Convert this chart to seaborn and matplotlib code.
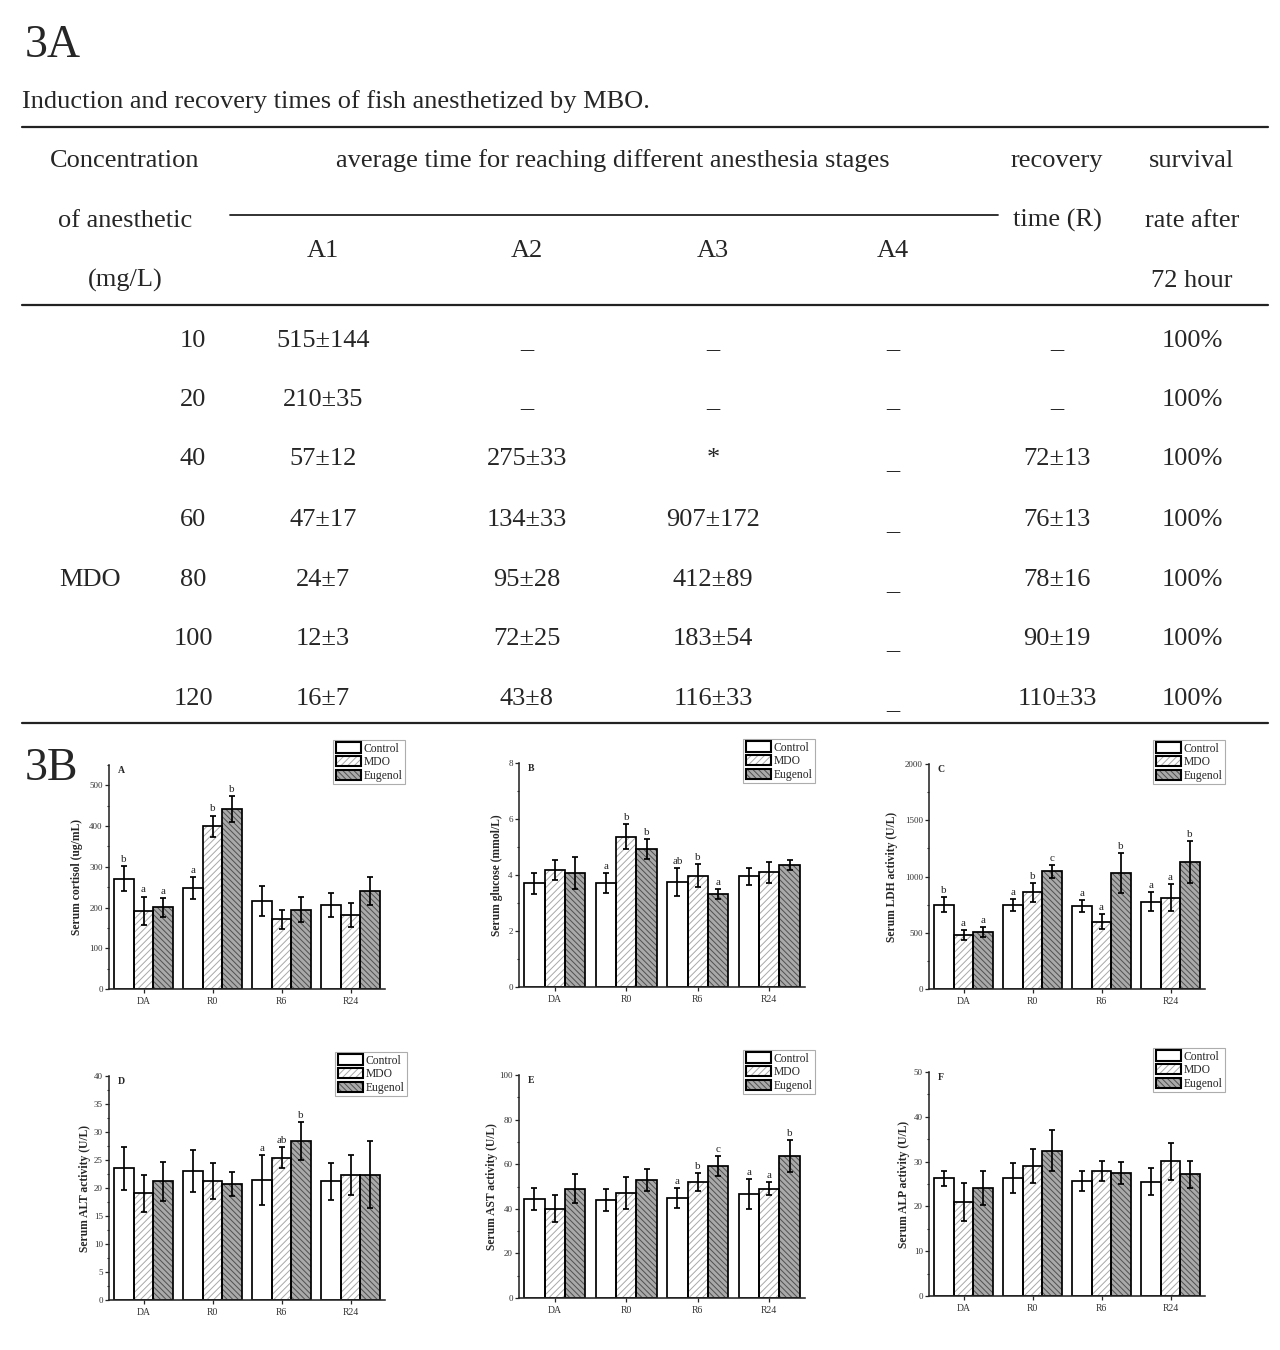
import numpy as np
import pandas as pd
import matplotlib
matplotlib.use("Agg")
import matplotlib.pyplot as plt
import matplotlib.patches as mpatches
from matplotlib.lines import Line2D
from matplotlib.ticker import MultipleLocator
import seaborn as sns

# ---- table 3A ----
conc = ["10", "20", "40", "60", "80", "100", "120"]
a1 = ["515±144", "210±35", "57±12", "47±17", "24±7", "12±3", "16±7"]
a2 = ["_", "_", "275±33", "134±33", "95±28", "72±25", "43±8"]
a3 = ["_", "_", "*", "907±172", "412±89", "183±54", "116±33"]
a4 = ["_", "_", "_", "_", "_", "_", "_"]
recovery = ["_", "_", "72±13", "76±13", "78±16", "90±19", "110±33"]
survival = ["100%", "100%", "100%", "100%", "100%", "100%", "100%"]

# ---- panels 3B ----
times = ["DA", "R0", "R6", "R24"]
groups = ["Control", "MDO", "Eugenol"]

cortisol_mean = [[271, 247, 216, 206], [192, 400, 171, 181], [201, 441, 195, 240]]
cortisol_sd = [[31, 27, 37, 29], [35, 26, 24, 29], [23, 32, 31, 34]]
cortisol_sig = [["b", "a", "", ""], ["a", "b", "", ""], ["a", "b", "", ""]]

glucose_mean = [[3.70, 3.70, 3.74, 3.95], [4.18, 5.37, 3.98, 4.10], [4.07, 4.93, 3.33, 4.36]]
glucose_sd = [[0.37, 0.36, 0.50, 0.29], [0.37, 0.45, 0.40, 0.37], [0.57, 0.36, 0.18, 0.18]]
glucose_sig = [["", "a", "ab", ""], ["", "b", "b", ""], ["", "b", "a", ""]]

ldh_mean = [[748, 748, 736, 777], [481, 858, 600, 813], [504, 1045, 1030, 1131]]
ldh_sd = [[66, 52, 52, 82], [45, 85, 65, 119], [43, 60, 176, 188]]
ldh_sig = [["b", "a", "a", "a"], ["a", "b", "a", "a"], ["a", "c", "b", "b"]]

alt_mean = [[23.5, 23.0, 21.4, 21.2], [19.1, 21.2, 25.4, 22.3], [21.2, 20.7, 28.4, 22.4]]
alt_sd = [[3.9, 3.8, 4.5, 3.3], [3.3, 3.2, 1.9, 3.6], [3.5, 2.1, 3.4, 6.0]]
alt_sig = [["", "", "a", ""], ["", "", "ab", ""], ["", "", "b", ""]]

ast_mean = [[44.5, 44.0, 44.8, 46.7], [40.0, 47.0, 51.9, 49.0], [49.0, 53.0, 59.3, 63.7]]
ast_sd = [[5.0, 4.9, 4.6, 6.7], [6.1, 7.3, 4.0, 3.0], [6.6, 4.9, 4.4, 7.2]]
ast_sig = [["", "", "a", "a"], ["", "", "b", "a"], ["", "", "c", "b"]]

alp_mean = [[26.3, 26.3, 25.7, 25.5], [21.0, 29.1, 27.9, 30.1], [24.2, 32.4, 27.5, 27.2]]
alp_sd = [[1.7, 3.4, 2.2, 3.0], [4.3, 3.8, 2.2, 4.1], [3.8, 4.6, 2.5, 3.0]]
alp_sig = [["", "", "", ""], ["", "", "", ""], ["", "", "", ""]]

sns.set_style("ticks")
plt.rcParams["font.family"] = ["Liberation Serif", "DejaVu Serif"]
plt.rcParams["hatch.linewidth"] = 0.7

W, H = 1280, 1350
fig = plt.figure(figsize=(12.8, 13.5), dpi=100)


def fx(px):
    return px / W


def fy(py):
    return 1 - py / H


def hline(x0, x1, y, lw=1.6):
    fig.add_artist(Line2D([fx(x0), fx(x1)], [fy(y), fy(y)], color="#222222", lw=lw))


def ttext(x, y, s, size=19, ha="center"):
    fig.text(fx(x), fy(y), s, ha=ha, va="baseline", fontsize=size)


# title + caption
fig.text(fx(25), fy(46), "3A", fontsize=33, va="center", ha="left")
fig.text(fx(22), fy(102), "Induction and recovery times of fish anesthetized by MBO.",
         fontsize=19, va="center", ha="left")

# table rules
hline(22, 1268, 127)
hline(230, 998, 215, lw=1.3)
hline(22, 1268, 305)
hline(22, 1268, 723)

# header
b = 9
ttext(125, 158 + b, "Concentration")
ttext(125, 218 + b, "of anesthetic")
ttext(125, 278 + b, "(mg/L)")
ttext(613, 158 + b, "average time for reaching different anesthesia stages")
for x, s in zip([323, 527, 713, 893], ["A1", "A2", "A3", "A4"]):
    ttext(x, 248 + b, s)
ttext(1057, 158 + b, "recovery")
ttext(1057, 218 + b, "time (R)")
ttext(1192, 158 + b, "survival")
ttext(1192, 218 + b, "rate after")
ttext(1192, 278 + b, "72 hour")

# body
row_y = [338, 397, 456, 517, 577, 636, 696]
ttext(90, 577 + b, "MDO")
cols = [(193, conc), (323, a1), (527, a2), (713, a3), (893, a4), (1057, recovery), (1192, survival)]
for x, vals in cols:
    for y, s in zip(row_y, vals):
        yy = y + b
        if s == "_" and x == 893 and y > 400:
            yy += 3
        ttext(x, yy, s)

fig.text(fx(25), fy(769), "3B", fontsize=33, va="center", ha="left")

# ---- bar panels ----
fills = ["white", "white", "#a9a9a9"]
hatch_cols = ["white", "#a8a8a8", "#505050"]
hatches = [None, "/" * 5, "\\" * 6]

panel_specs = [
    ("A", cortisol_mean, cortisol_sd, cortisol_sig, "Serum cortisol (ug/mL)", 550, 100, 50,
     (109, 385, 765, 989), (405, 740), -26),
    ("B", glucose_mean, glucose_sd, glucose_sig, "Serum glucose (mmol/L)", 8, 2, 1,
     (519, 805, 763, 987), (815, 739), -16),
    ("C", ldh_mean, ldh_sd, ldh_sig, "Serum LDH activity (U/L)", 2000, 500, 250,
     (929, 1205, 764, 989), (1225, 740), -31),
    ("D", alt_mean, alt_sd, alt_sig, "Serum ALT activity (U/L)", 40, 5, 2.5,
     (109, 385, 1076, 1300), (407, 1052), -18),
    ("E", ast_mean, ast_sd, ast_sig, "Serum AST activity (U/L)", 100, 20, 10,
     (519, 805, 1075, 1298), (815, 1050), -21),
    ("F", alp_mean, alp_sd, alp_sig, "Serum ALP activity (U/L)", 50, 10, 5,
     (929, 1205, 1072, 1296), (1225, 1048), -19),
]

for letter, mean, sd, sig, ylabel, ytop, major, minor, box, leg_xy, lab_off in panel_specs:
    x0, x1, y0, y1 = box
    ax = fig.add_axes([fx(x0), fy(y1), (x1 - x0) / W, (y1 - y0) / H])
    df = pd.DataFrame({
        "time": np.tile(times, 3),
        "group": np.repeat(groups, 4),
        "value": np.ravel(mean),
    })
    sns.barplot(data=df, x="time", y="value", hue="group", order=times, hue_order=groups,
                palette=fills, saturation=1, edgecolor="black", linewidth=1.25,
                width=0.85, gap=0, errorbar=None, legend=False, ax=ax)
    bar_conts = list(ax.containers)
    for i, cont in enumerate(bar_conts):
        xs = []
        for p in cont:
            xs.append(p.get_x() + p.get_width() / 2)
            under = mpatches.Rectangle(p.get_xy(), p.get_width(), p.get_height(),
                                       facecolor=fills[i], edgecolor=hatch_cols[i],
                                       hatch=hatches[i], lw=0, zorder=p.get_zorder() - 0.01)
            ax.add_patch(under)
            p.set_facecolor("none")
        ax.errorbar(xs, mean[i], yerr=sd[i], fmt="none", ecolor="black",
                    elinewidth=1.25, capsize=2.5, capthick=1.25, zorder=3)
        for xv, m, s, t in zip(xs, mean[i], sd[i], sig[i]):
            if t:
                ax.annotate(t, (xv, m + s), xytext=(0, 1.5), textcoords="offset points",
                            ha="center", va="bottom", fontsize=8)

    ax.set_xlim(-0.5, 3.5)
    ax.yaxis.set_major_locator(MultipleLocator(major))
    ax.yaxis.set_minor_locator(MultipleLocator(minor))
    ax.set_ylim(0, ytop)
    sns.despine(ax=ax)
    for sp in ["left", "bottom"]:
        ax.spines[sp].set_linewidth(1.15)
    ax.tick_params(axis="y", which="major", length=3, width=0.9, pad=1.5,
                   labelsize=6.5, labelcolor="#333333")
    ax.tick_params(axis="y", which="minor", length=1.8, width=0.8)
    ax.tick_params(axis="x", length=3, width=0.9, pad=2.5, labelsize=7, labelcolor="#333333")
    ax.set_xlabel("")
    ax.set_ylabel(ylabel, fontsize=8.4, fontweight="bold")
    ax.yaxis.set_label_coords(lab_off / (x1 - x0), 0.5)
    ax.text(9 / (x1 - x0), 0.995, letter, transform=ax.transAxes, ha="left", va="top",
            fontsize=7, fontweight="bold")

    handles = []
    for i in range(3):
        base = mpatches.Patch(facecolor=fills[i], edgecolor=hatch_cols[i], hatch=hatches[i], lw=0)
        edge = mpatches.Patch(facecolor="none", edgecolor="black", lw=1.5)
        handles.append((base, edge))
    leg = ax.legend(handles, groups, loc="upper right",
                    bbox_to_anchor=(fx(leg_xy[0]), fy(leg_xy[1])),
                    bbox_transform=fig.transFigure, fontsize=8.4, frameon=True,
                    fancybox=False, borderpad=0.2, labelspacing=0.12, handlelength=2.2,
                    handleheight=1.0, handletextpad=0.2, borderaxespad=0)
    leg.get_frame().set_edgecolor("#999999")
    leg.get_frame().set_linewidth(0.8)

fig.savefig("out.png", dpi=100)
